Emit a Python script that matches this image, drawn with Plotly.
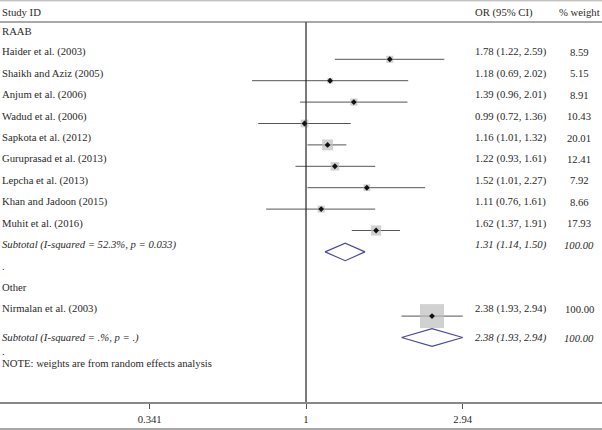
import math
import plotly.graph_objects as go

# ---- data ----
raab_studies = ["Haider et al. (2003)", "Shaikh and Aziz (2005)", "Anjum et al. (2006)",
                "Wadud et al. (2006)", "Sapkota et al. (2012)", "Guruprasad et al. (2013)",
                "Lepcha et al. (2013)", "Khan and Jadoon (2015)", "Muhit et al. (2016)"]
raab_or = [1.78, 1.18, 1.39, 0.99, 1.16, 1.22, 1.52, 1.11, 1.62]
raab_lo = [1.22, 0.69, 0.96, 0.72, 1.01, 0.93, 1.01, 0.76, 1.37]
raab_hi = [2.59, 2.02, 2.01, 1.36, 1.32, 1.61, 2.27, 1.61, 1.91]
raab_wt = [8.59, 5.15, 8.91, 10.43, 20.01, 12.41, 7.92, 8.66, 17.93]
raab_sub = [1.31, 1.14, 1.50]
raab_sub_label = "Subtotal (I-squared = 52.3%, p = 0.033)"

other_studies = ["Nirmalan et al. (2003)"]
other_or = [2.38]
other_lo = [1.93]
other_hi = [2.94]
other_wt = [100.00]
other_sub = [2.38, 1.93, 2.94]
other_sub_label = "Subtotal (I-squared = .%, p = .)"

groups = ["RAAB", "Other"]
note_text = "NOTE: weights are from random effects analysis"
x_ticks = [0.341, 1, 2.94]

# ---- layout constants (pixels) ----
W, H = 602, 430
PLOT_H = 402
ROW0 = 37.9
ROWH = 21.4
TXT_OFF = -7.4
FONT = "Liberation Serif"
FSIZE = 10.7
TXT = "#2a2a2a"


def row_y(i):
    return ROW0 + ROWH * i


fig = go.Figure()
ann = []


def label(x, y, text, anchor="left", italic=False):
    if italic:
        text = "<i>" + text + "</i>"
    ann.append(dict(x=x, y=y, xref="paper", yref="y", text=text, showarrow=False,
                    xanchor=anchor, yanchor="middle",
                    font=dict(family=FONT, size=FSIZE, color=TXT)))


ci_x, ci_y, box_x, box_y, box_s, pt_x, pt_y = [], [], [], [], [], [], []
dia_x, dia_y = [], []
OR_X = 473 / W
WT_X = 579 / W

row = 0
blocks = [
    (groups[0], raab_studies, raab_or, raab_lo, raab_hi, raab_wt, raab_sub, raab_sub_label),
    (groups[1], other_studies, other_or, other_lo, other_hi, other_wt, other_sub, other_sub_label),
]
for bi, (g, st, orv, lo, hi, wt, sub, sublab) in enumerate(blocks):
    label(0.0, row_y(row) + TXT_OFF, g)
    row += 1
    for s, o, l, h, w in zip(st, orv, lo, hi, wt):
        y = row_y(row)
        ci_x += [l, h, None]
        ci_y += [y, y, None]
        box_x.append(o)
        box_y.append(y)
        box_s.append(2.4 * math.sqrt(w))
        pt_x.append(o)
        pt_y.append(y)
        label(0.0, y + TXT_OFF, s)
        label(OR_X, y + TXT_OFF, "%.2f (%.2f, %.2f)" % (o, l, h))
        label(WT_X, y + TXT_OFF, "%.2f" % w, anchor="center")
        row += 1
    y = row_y(row)
    e, l, h = sub
    dia_x += [l, e, h, e, l, None]
    dia_y += [y, y - 8.8, y, y + 8.8, y, None]
    ty = y + (TXT_OFF if bi == 0 else 0)
    label(0.0, ty, sublab, italic=True)
    label(OR_X, ty, "%.2f (%.2f, %.2f)" % (e, l, h), italic=True)
    label(WT_X, ty, "%.2f" % 100, anchor="center", italic=True)
    row += 1
    if bi == 0:
        label(0.0, row_y(row) + TXT_OFF, ".")
        row += 1

label(0.0, 351, ".")
label(0.0, 362.5, note_text)

# header
label(0.0, 12, "Study ID")
label(504 / W, 12, "OR (95% CI)", anchor="center")
label(WT_X, 12, "% weight", anchor="center")

fig.add_trace(go.Scatter(x=ci_x, y=ci_y, mode="lines",
                         line=dict(color="#555555", width=1), hoverinfo="skip"))
fig.add_trace(go.Scatter(x=box_x, y=box_y, mode="markers",
                         marker=dict(symbol="square", size=box_s, color="#bdbdbd",
                                     line=dict(width=0))))
fig.add_trace(go.Scatter(x=pt_x, y=pt_y, mode="markers",
                         marker=dict(symbol="diamond", size=4.5, color="#111111")))
fig.add_trace(go.Scatter(x=dia_x, y=dia_y, mode="lines",
                         line=dict(color="#4a4a98", width=1.2)))

shapes = [
    # null line at OR = 1
    dict(type="line", xref="x", yref="y", x0=1, x1=1, y0=22, y1=PLOT_H,
         line=dict(color="#222222", width=1.2)),
    # header rule
    dict(type="line", xref="paper", yref="paper", x0=0, x1=1,
         y0=(PLOT_H - 22) / PLOT_H, y1=(PLOT_H - 22) / PLOT_H,
         line=dict(color="#555555", width=1.2)),
    # top rule
    dict(type="line", xref="paper", yref="paper", x0=0, x1=1,
         y0=(PLOT_H - 0.8) / PLOT_H, y1=(PLOT_H - 0.8) / PLOT_H,
         line=dict(color="#aaaaaa", width=1)),
    # bottom rule
    dict(type="line", xref="paper", yref="paper", x0=0, x1=1,
         y0=(PLOT_H - 429) / PLOT_H, y1=(PLOT_H - 429) / PLOT_H,
         line=dict(color="#888888", width=1.5)),
]

lx0 = -2.106 / math.log(10)
lx1 = 2.037 / math.log(10)

fig.update_layout(
    width=W, height=H,
    margin=dict(l=0, r=0, t=0, b=H - PLOT_H),
    plot_bgcolor="white", paper_bgcolor="white",
    showlegend=False,
    annotations=ann,
    shapes=shapes,
    xaxis=dict(type="log", range=[lx0, lx1], tickvals=x_ticks,
               ticktext=[str(v) for v in x_ticks],
               showgrid=False, zeroline=False,
               showline=True, linecolor="#888888", linewidth=1.5,
               ticks="outside", ticklen=5, tickcolor="#555555",
               ticklabelstandoff=1,
               tickfont=dict(family=FONT, size=FSIZE, color=TXT), fixedrange=True),
    yaxis=dict(range=[PLOT_H, 0], visible=False, fixedrange=True),
)

fig.write_html("out.html", config={"displayModeBar": False},
               post_script="document.body.style.margin='0';")
